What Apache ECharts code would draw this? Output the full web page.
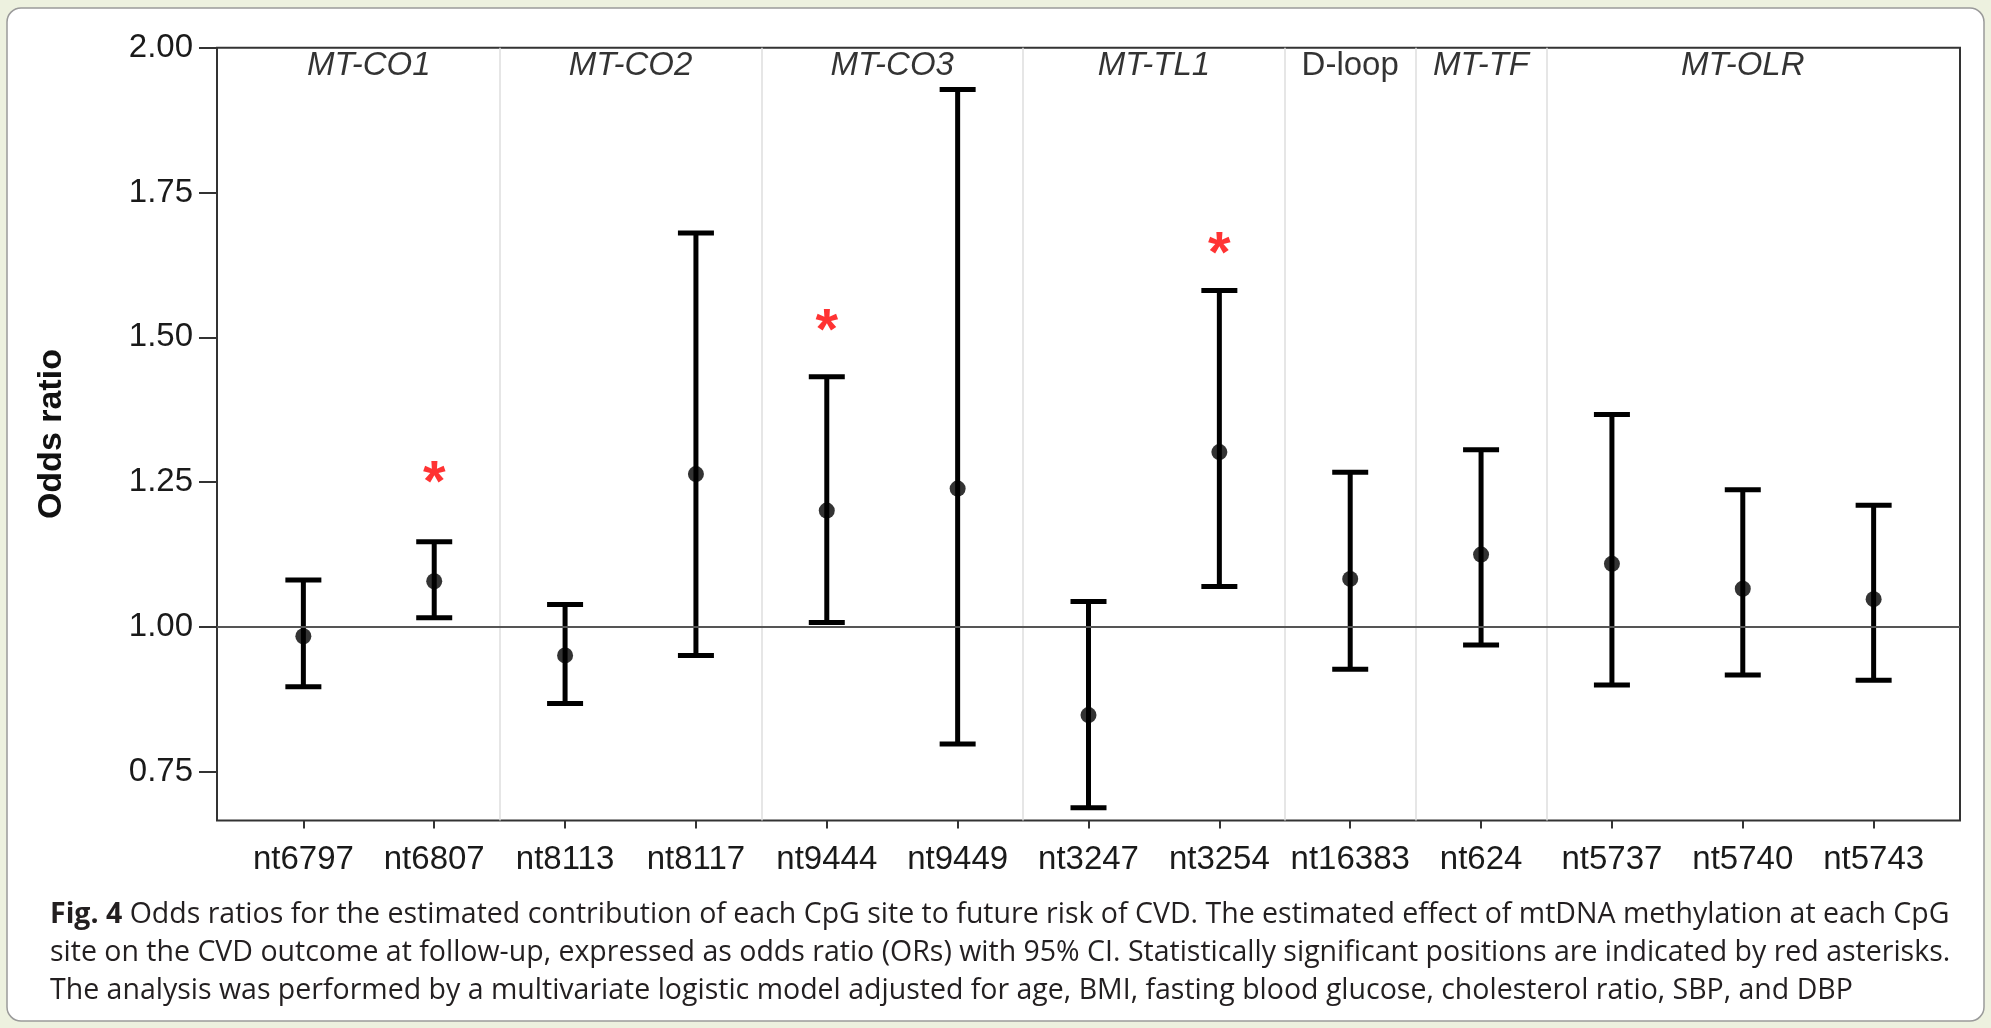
<!DOCTYPE html>
<html>
<head>
<meta charset="utf-8">
<title>Odds ratios per CpG site</title>
<script src="https://cdn.jsdelivr.net/npm/echarts@6/dist/echarts.min.js"></script>
<style>
  html, body { margin: 0; padding: 0; background: #edf1df; }
  #chart { width: 1991px; height: 1028px; }
</style>
</head>
<body>
<div id="chart"></div>
<script>
// CpG sites (x axis)
const sites = ['nt6797', 'nt6807', 'nt8113', 'nt8117', 'nt9444', 'nt9449', 'nt3247',
  'nt3254', 'nt16383', 'nt624', 'nt5737', 'nt5740', 'nt5743']
// odds ratio + 95% CI
const oddsRatio = [0.984, 1.079, 0.951, 1.264, 1.201, 1.239, 0.848, 1.302, 1.083, 1.125, 1.109, 1.066, 1.048]
const ciLower = [0.897, 1.016, 0.868, 0.951, 1.008, 0.798, 0.688, 1.070, 0.927, 0.969, 0.900, 0.917, 0.908]
const ciUpper = [1.081, 1.147, 1.039, 1.680, 1.432, 1.928, 1.044, 1.581, 1.267, 1.306, 1.367, 1.237, 1.210]
// red asterisks (significant sites), null = not significant
const starValue = [null, 1.267, null, null, 1.530, null, null, 1.663, null, null, null, null, null]
// gene regions: first / last site index (1-based)
const genes = ['MT-CO1', 'MT-CO2', 'MT-CO3', 'MT-TL1', 'D-loop', 'MT-TF', 'MT-OLR']
const geneFirst = [1, 3, 5, 7, 9, 10, 11]
const geneLast = [2, 4, 6, 8, 9, 10, 13]
// y tick labels
const yTicks = [0.75, 1.00, 1.25, 1.50, 1.75, 2.00]

const captionLines = [
  '{b|Fig. 4} Odds ratios for the estimated contribution of each CpG site to future risk of CVD. The estimated effect of mtDNA methylation at each CpG',
  'site on the CVD outcome at follow-up, expressed as odds ratio (ORs) with 95% CI. Statistically significant positions are indicated by red asterisks.',
  'The analysis was performed by a multivariate logistic model adjusted for age, BMI, fasting blood glucose, cholesterol ratio, SBP, and DBP'
]

const axisFont = 'Liberation Sans, Arial, Helvetica, sans-serif'
const siteIdx = sites.map((s, i) => i + 1)

const chart = echarts.init(document.getElementById('chart'))

chart.setOption({
  animation: false,
  backgroundColor: '#edf1df',
  graphic: [{
    type: 'rect',
    z: -10,
    shape: { x: 7, y: 8, width: 1977, height: 1013, r: 14 },
    style: { fill: '#fff', stroke: '#9a9a9a', lineWidth: 1.5 }
  }],
  title: {
    text: captionLines.join('\n'),
    left: 45,
    top: 891,
    textStyle: {
      fontFamily: 'Open Sans',
      fontSize: 28.5,
      fontWeight: 'normal',
      color: '#231f20',
      lineHeight: 38,
      rich: {
        b: { fontFamily: 'Open Sans', fontSize: 28.5, fontWeight: 'bold', color: '#231f20', lineHeight: 38 }
      }
    }
  },
  grid: {
    left: 217,
    right: 31,
    top: 47.7,
    bottom: 207.5,
    show: true,
    borderColor: '#333',
    borderWidth: 2,
    backgroundColor: 'transparent'
  },
  xAxis: {
    type: 'value',
    min: 0.34,
    max: 13.66,
    splitLine: { show: false },
    axisLine: { show: false },
    axisTick: { show: true, customValues: siteIdx, length: 8, lineStyle: { color: '#333', width: 2 } },
    axisLabel: {
      customValues: siteIdx,
      formatter: v => sites[Math.round(v) - 1],
      fontFamily: axisFont,
      fontSize: 33,
      color: '#1a1a1a',
      margin: 23
    }
  },
  yAxis: {
    type: 'value',
    min: 0.666,
    max: 2.0,
    name: 'Odds ratio',
    nameLocation: 'middle',
    nameRotate: 90,
    nameGap: 148,
    nameTextStyle: { fontFamily: axisFont, fontSize: 34, fontWeight: 'bold', color: '#111' },
    splitLine: { show: false },
    axisLine: { show: false },
    axisTick: { show: true, customValues: yTicks, length: 18, lineStyle: { color: '#333', width: 2 } },
    axisLabel: {
      customValues: yTicks,
      formatter: v => v.toFixed(2),
      fontFamily: axisFont,
      fontSize: 33,
      color: '#1a1a1a',
      margin: 24
    }
  },
  series: [
    {
      // gene separators + OR = 1 reference line
      type: 'line',
      data: [],
      z: 1,
      markLine: {
        silent: true,
        symbol: 'none',
        label: { show: false },
        lineStyle: { color: '#dedede', width: 1.5, type: 'solid' },
        data: geneLast.slice(0, -1).map(v => ({ xAxis: v + 0.5 })).concat([
          { yAxis: 1, lineStyle: { color: '#555', width: 2, type: 'solid' } }
        ])
      }
    },
    {
      // 95% CI error bars
      type: 'custom',
      z: 3,
      silent: true,
      data: sites.map((s, i) => [i + 1, ciLower[i], ciUpper[i]]),
      encode: { x: 0, y: [1, 2] },
      renderItem: function (params, api) {
        const x = api.value(0)
        const lo = api.coord([x, api.value(1)])
        const hi = api.coord([x, api.value(2)])
        const half = 18
        const st = { stroke: '#000', lineWidth: 5 }
        return {
          type: 'group',
          children: [
            { type: 'line', shape: { x1: lo[0], y1: lo[1], x2: hi[0], y2: hi[1] }, style: st },
            { type: 'line', shape: { x1: hi[0] - half, y1: hi[1], x2: hi[0] + half, y2: hi[1] }, style: st },
            { type: 'line', shape: { x1: lo[0] - half, y1: lo[1], x2: lo[0] + half, y2: lo[1] }, style: st }
          ]
        }
      }
    },
    {
      // point estimates
      type: 'scatter',
      z: 4,
      silent: true,
      symbol: 'circle',
      symbolSize: 16,
      itemStyle: { color: '#000' },
      data: sites.map((s, i) => [i + 1, oddsRatio[i]])
    },
    {
      // significance asterisks
      type: 'scatter',
      z: 5,
      silent: true,
      symbolSize: 0,
      data: starValue.map((v, i) => [i + 1, v]).filter(d => d[1] !== null),
      label: {
        show: true,
        position: 'inside',
        formatter: '*',
        fontFamily: axisFont,
        fontSize: 58,
        fontWeight: 'bold',
        color: '#ff0000',
        offset: [0, 13]
      }
    },
    {
      // gene names on top
      type: 'scatter',
      z: 5,
      silent: true,
      symbolSize: 0,
      data: genes.map((g, i) => ({
        name: g,
        value: [(geneFirst[i] + geneLast[i]) / 2, 2.0],
        label: g === 'D-loop' ? { fontStyle: 'normal' } : undefined
      })),
      label: {
        show: true,
        position: 'inside',
        offset: [0, 18],
        formatter: p => p.name,
        fontFamily: axisFont,
        fontSize: 33,
        fontStyle: 'italic',
        color: '#000'
      },
      emphasis: { disabled: true }
    }
  ]
})
</script>
</body>
</html>
